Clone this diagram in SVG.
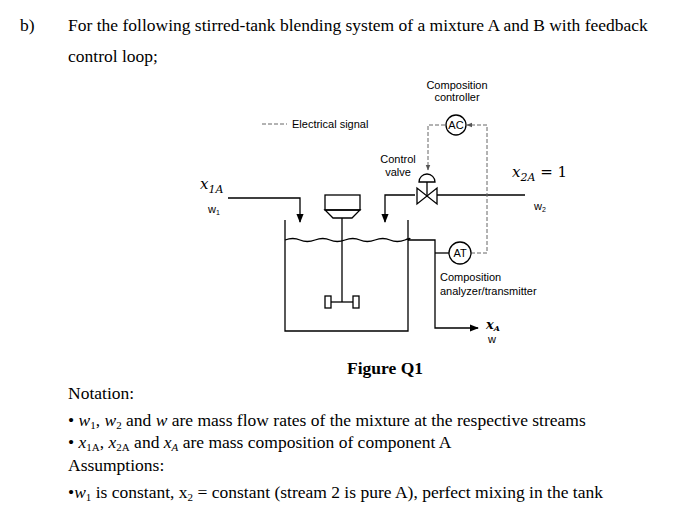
<svg xmlns="http://www.w3.org/2000/svg" width="700" height="522" viewBox="0 0 700 522">
<style>
.t{font-family:"Liberation Serif",serif;font-size:17.5px;fill:#000}
.s{font-family:"Liberation Sans",sans-serif;font-size:11px;fill:#000}
.ln{fill:none;stroke:#000;stroke-width:1.3}
.d{fill:none;stroke:#666;stroke-width:1;stroke-dasharray:4,2}
</style>
<defs>
<marker id="a" viewBox="0 0 10 10" refX="9" refY="5" markerWidth="7" markerHeight="7" orient="auto"><path d="M0,1L10,5L0,9z" fill="#000"/></marker>
<marker id="g" viewBox="0 0 10 10" refX="9" refY="5" markerWidth="6" markerHeight="6" orient="auto"><path d="M0,1L10,5L0,9z" fill="#555"/></marker>
</defs>
<rect width="700" height="522" fill="#fff"/>
<text class="t" x="20" y="31">b)</text>
<text class="t" x="68" y="31">For the following stirred-tank blending system of a mixture A and B with feedback</text>
<text class="t" x="68" y="62">control loop;</text>

<g id="legend"><line x1="262" y1="124" x2="287" y2="124" class="d"/><text class="s" x="292" y="128">Electrical signal</text></g>

<g id="connectors">
<polyline class="ln" points="228,198 300,198 300,222" marker-end="url(#a)"/>
<polyline class="ln" points="525,195 437,195"/>
<polyline class="ln" points="415,195 385,195 385,222" marker-end="url(#a)"/>
<polyline class="ln" points="408,240 435,240 435,328 478,328" marker-end="url(#a)"/>
<line class="ln" x1="435" y1="253" x2="449" y2="253"/>
<polyline class="d" points="445,125 428,125 428,170" marker-end="url(#g)"/>
<polyline class="d" points="471,253 487,253 487,125 467,125" marker-end="url(#g)"/>
</g>

<g id="tank">
<polyline class="ln" points="285,220 285,331 408,331 408,220"/>
<path class="ln" d="M285,240 q8,-3 15,0 t15,0 t15,0 t15,0 t15,0 t15,0 t15,0 t15,0 t3,0"/>
</g>
<g id="mixer">
<rect class="ln" x="325" y="195" width="35" height="15"/>
<polygon class="ln" points="325,210 360,210 352,218 333,218"/>
<line class="ln" x1="342" y1="218" x2="342" y2="302"/>
<line class="ln" x1="331" y1="302" x2="353" y2="302"/>
<rect class="ln" x="325" y="296" width="6" height="12"/>
<rect class="ln" x="353" y="296" width="6" height="12"/>
</g>
<g id="valve">
<polygon class="ln" points="417,188 417,204 437,188 437,204"/>
<line class="ln" x1="427" y1="196" x2="427" y2="182"/>
<path class="ln" d="M419,182 A8,8 0 0 1 435,182 Z"/>
<text class="s" x="398" y="163" text-anchor="middle">Control</text>
<text class="s" x="398" y="176" text-anchor="middle">valve</text>
</g>
<g id="AC">
<circle class="ln" cx="456" cy="125" r="10" fill="#fff"/>
<text class="s" x="456" y="129" text-anchor="middle">AC</text>
<text class="s" x="457" y="89" text-anchor="middle">Composition</text>
<text class="s" x="457" y="101" text-anchor="middle">controller</text>
</g>
<g id="AT">
<circle class="ln" cx="460" cy="253" r="11" fill="#fff"/>
<text class="s" x="460" y="257" text-anchor="middle">AT</text>
<text class="s" x="440" y="281">Composition</text>
<text class="s" x="440" y="295">analyzer/transmitter</text>
</g>
<g id="labels">
<text x="200" y="189" font-family="DejaVu Serif,serif" font-style="italic" font-size="15">x<tspan font-size="11" dy="4">1A</tspan></text>
<text class="s" x="208" y="213" font-size="9">w<tspan font-size="7" dy="2">1</tspan></text>
<text x="512" y="177" font-family="DejaVu Serif,serif" font-size="15"><tspan font-style="italic">x</tspan><tspan font-size="11" dy="4" font-style="italic">2A</tspan><tspan dy="-4"> = 1</tspan></text>
<text class="s" x="534" y="210" font-size="9">w<tspan font-size="7" dy="2">2</tspan></text>
<text x="486" y="329" font-family="DejaVu Serif,serif" font-style="italic" font-weight="bold" font-size="13">x<tspan font-size="8" dy="2">A</tspan></text>
<text class="s" x="488" y="343" font-size="9">w</text>
</g>

<text class="t" x="385" y="374" text-anchor="middle" font-weight="bold">Figure Q1</text>
<text class="t" x="68" y="399">Notation:</text>
<text class="t" x="68" y="426">• <tspan font-style="italic">w</tspan><tspan font-size="11" dy="3">1</tspan><tspan dy="-3">, </tspan><tspan font-style="italic">w</tspan><tspan font-size="11" dy="3">2</tspan><tspan dy="-3"> and </tspan><tspan font-style="italic">w</tspan> are mass flow rates of the mixture at the respective streams</text>
<text class="t" x="68" y="448">• <tspan font-style="italic">x</tspan><tspan font-size="11" dy="3">1A</tspan><tspan dy="-3">, </tspan><tspan font-style="italic">x</tspan><tspan font-size="11" dy="3">2A</tspan><tspan dy="-3"> and </tspan><tspan font-style="italic">x</tspan><tspan font-size="11" dy="3" font-style="italic">A</tspan><tspan dy="-3"> are mass composition of component A</tspan></text>
<text class="t" x="68" y="471">Assumptions:</text>
<text class="t" x="68" y="498">•<tspan font-style="italic">w</tspan><tspan font-size="11" dy="3">1</tspan><tspan dy="-3"> is constant, x</tspan><tspan font-size="11" dy="3">2</tspan><tspan dy="-3"> = constant (stream 2 is pure A), perfect mixing in the tank</tspan></text>
</svg>
